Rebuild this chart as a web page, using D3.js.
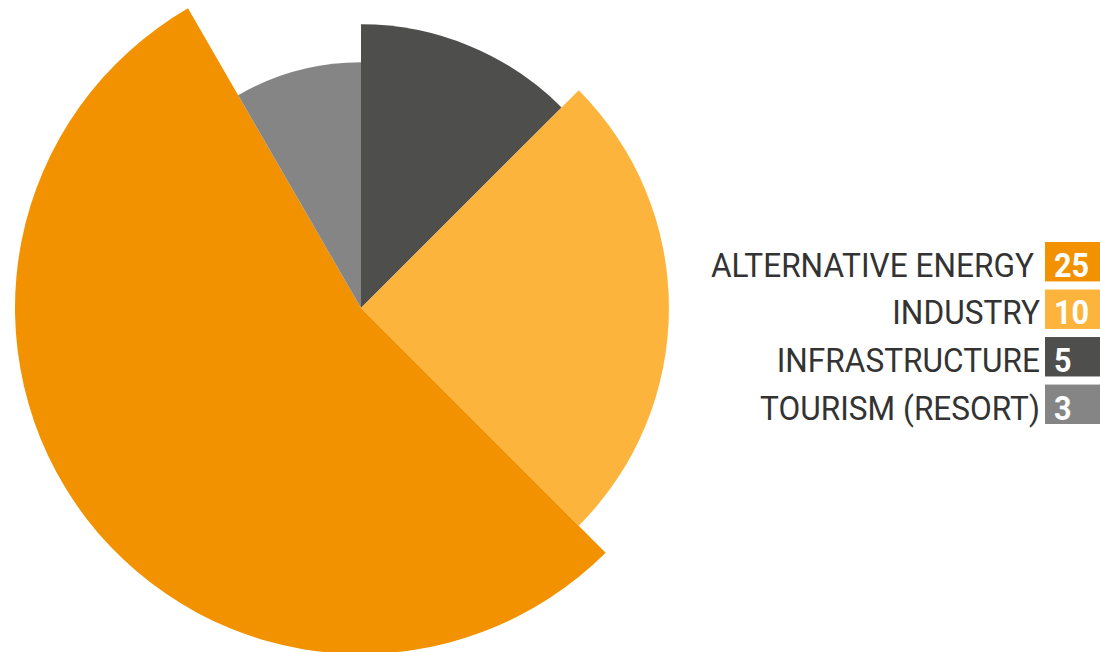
<!DOCTYPE html>
<html>
<head>
<meta charset="utf-8">
<script src="https://cdnjs.cloudflare.com/ajax/libs/d3/7.8.5/d3.min.js"></script>
<style>
  body { margin: 0; background: #fff; }
  svg { display: block; }
</style>
</head>
<body>
<script>
// legend order
let categories = ['ALTERNATIVE ENERGY', 'INDUSTRY', 'INFRASTRUCTURE', 'TOURISM (RESORT)'];
let values = [25, 10, 5, 3];
// slice sweep weights and reach (% of biggest radius)
let sweep = [13, 6, 3, 2];
let reach = [100, 89, 82, 71];
let colors = ['#f39200', '#fdb43c', '#4e4e4c', '#858585'];
// slices go clockwise from 12 o'clock in this order
let drawOrder = [2, 1, 0, 3];

let w = 1100, h = 652;
let cx = 361, cy = 308;

let svg = d3.select('body')
  .append('svg')
  .attr('width', w)
  .attr('height', h);

let rows = categories.map((c, i) => ({ name: c, value: values[i], sweep: sweep[i], reach: reach[i], color: colors[i], idx: i }));

let pie = d3.pie()
  .sort(null)
  .value(d => d.sweep);

let rScale = d3.scaleLinear()
  .domain([0, 100])
  .range([0, 346]);

let arcs = pie(drawOrder.map(i => rows[i]));

let arc = d3.arc()
  .innerRadius(0)
  .outerRadius(d => rScale(d.data.reach));

svg.append('g')
  .attr('transform', `translate(${cx},${cy})`)
  .selectAll('path')
  .data(arcs)
  .enter()
  .append('path')
  .attr('d', arc)
  .attr('fill', d => d.data.color);

// legend
let legY = d3.scaleBand()
  .domain(categories)
  .range([242, 424])
  .paddingInner(0.17)
  .paddingOuter(0);

let squeeze = 0.93;

let leg = svg.append('g');

let item = leg.selectAll('g')
  .data(rows)
  .enter()
  .append('g')
  .attr('transform', d => `translate(0,${legY(d.name)})`);

item.append('rect')
  .attr('x', 1045)
  .attr('y', 0)
  .attr('width', 60)
  .attr('height', legY.bandwidth())
  .attr('fill', d => d.color);

item.append('text')
  .attr('transform', (d, i) => `translate(${i == 0 ? 1034 : 1040},${legY.bandwidth() - 4.5}) scale(${squeeze},1)`)
  .attr('text-anchor', 'end')
  .style('font-family', 'Roboto')
  .style('font-size', '34px')
  .style('fill', '#333')
  .text(d => d.name);

item.append('text')
  .attr('transform', `translate(1054,${legY.bandwidth() - 4.5}) scale(0.9,1)`)
  .style('font-family', 'Roboto')
  .style('font-weight', 'bold')
  .style('font-size', '34px')
  .style('fill', '#fff')
  .text(d => d.value);
</script>
</body>
</html>
